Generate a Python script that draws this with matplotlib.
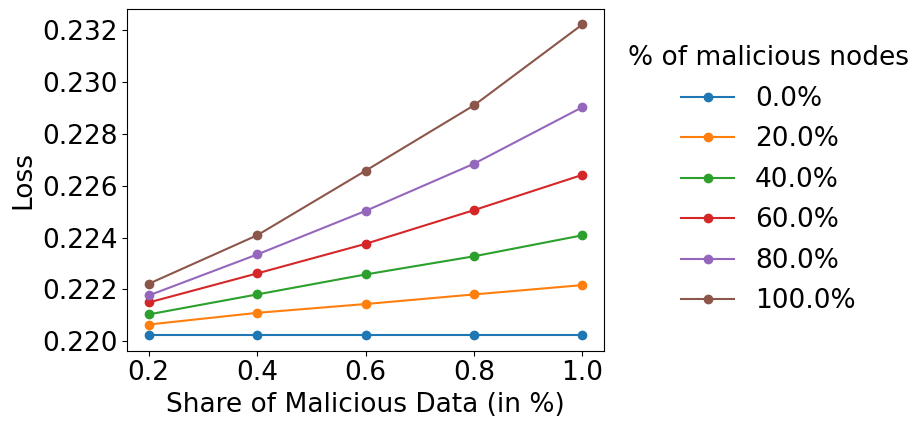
import matplotlib
matplotlib.use("Agg")
import matplotlib.pyplot as plt

# share of malicious data on each node
shares = [0.2, 0.4, 0.6, 0.8, 1.0]
labels = ["0.0%", "20.0%", "40.0%", "60.0%", "80.0%", "100.0%"]

# loss, one list per % of malicious nodes
loss_0 = [0.22024, 0.22024, 0.22024, 0.22024, 0.22024]
loss_20 = [0.22065, 0.22110, 0.22144, 0.22181, 0.22217]
loss_40 = [0.22104, 0.22181, 0.22258, 0.22328, 0.22409]
loss_60 = [0.22150, 0.22262, 0.22376, 0.22506, 0.22642]
loss_80 = [0.22177, 0.22335, 0.22503, 0.22685, 0.22903]
loss_100 = [0.22222, 0.22409, 0.22658, 0.22910, 0.23222]
all_losses = [loss_0, loss_20, loss_40, loss_60, loss_80, loss_100]

plt.rcParams.update({"font.size": 19})

fig, ax = plt.subplots(figsize=(9.14, 4.21), dpi=100)
for lab, vals in zip(labels, all_losses):
    ax.plot(shares, vals, marker="o", label=lab)

ax.set_xlabel("Share of Malicious Data (in %)")
ax.set_ylabel("Loss")
ax.set_xticks([0.2, 0.4, 0.6, 0.8, 1.0])
ax.set_yticks([0.220, 0.222, 0.224, 0.226, 0.228, 0.230, 0.232])
ax.legend(title="% of malicious nodes", loc="center left",
          bbox_to_anchor=(1.0, 0.5), frameon=False, labelspacing=0.55)

fig.subplots_adjust(left=0.139, right=0.661, top=0.979, bottom=0.167)
fig.savefig("out.png", dpi=100)
